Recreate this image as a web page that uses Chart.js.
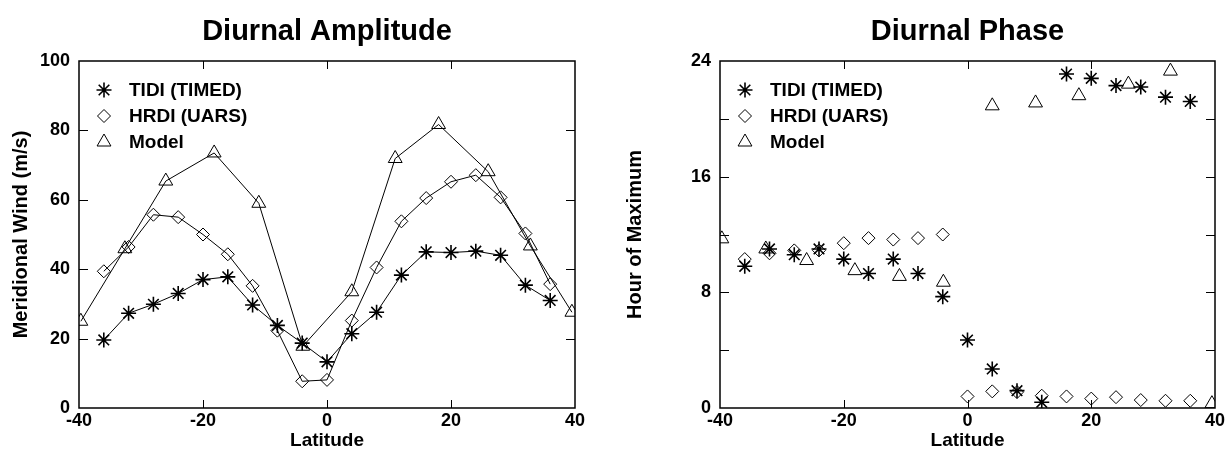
<!DOCTYPE html>
<html>
<head>
<meta charset="utf-8">
<script src="https://cdn.jsdelivr.net/npm/chart.js@4.4.0/dist/chart.umd.min.js"></script>
<style>
    html, body { margin: 0; padding: 0; background: #fff; }
    #wrap { position: relative; width: 1228px; height: 464px; }
    .box { position: absolute; top: 0; width: 614px; height: 464px; }
</style>
</head>
<body>
<div id="wrap">
    <div class="box" style="left:0"><canvas id="ampChart" width="614" height="464"></canvas></div>
    <div class="box" style="left:614px"><canvas id="phaseChart" width="614" height="464"></canvas></div>
</div>
<script>
// latitudes of the observations
const obsLat = [-36, -32, -28, -24, -20, -16, -12, -8, -4, 0, 4, 8, 12, 16, 20, 24, 28, 32, 36];
const modelLat = [-39.7, -32.6, -26, -18.2, -11, -3.9, 4, 11, 18, 26, 32.8, 39.5];

// diurnal amplitude (m/s)
const tidiAmp = [19.6, 27.3, 29.9, 33.0, 37.0, 37.8, 29.7, 23.8, 18.7, 13.3, 21.4, 27.6, 38.3, 45.0, 44.8, 45.2, 44.0, 35.4, 31.0];
const hrdiAmp = [39.4, 46.4, 55.7, 55.0, 50.0, 44.3, 35.2, 22.3, 7.7, 8.1, 25.2, 40.5, 53.8, 60.5, 65.2, 67.1, 60.7, 50.3, 35.7];
const modelAmp = [25.0, 45.9, 65.4, 73.5, 59.0, 17.8, 33.5, 71.9, 81.7, 68.1, 46.7, 27.6];

// diurnal phase (hour of maximum)
const tidiPhase = [9.8, 11.0, 10.6, 11.0, 10.3, 9.3, 10.3, 9.3, 7.7, 4.7, 2.7, 1.2, 0.4, 23.1, 22.8, 22.3, 22.2, 21.5, 21.2];
const hrdiPhase = [10.3, 10.7, 10.9, 10.9, 11.4, 11.75, 11.65, 11.75, 12.0, 0.8, 1.15, 1.1, 0.85, 0.8, 0.65, 0.75, 0.55, 0.5, 0.5];
const modelPhase = [11.7, 11.0, 10.2, 9.5, 9.1, 8.7, 20.9, 21.1, 21.6, 22.4, 23.3, 0.3];

// tick marks drawn inside the frame
const latTicks = [-20, 0, 20];
const ampTicks = [20, 40, 60, 80];
const phaseTicks = [4, 8, 12, 16, 20];

const seriesNames = ["TIDI (TIMED)", "HRDI (UARS)", "Model"];

const FONT = '"Liberation Sans", Arial, sans-serif';

function pts(xs, ys) {
    return xs.map((x, i) => ({ x: x, y: ys[i] }));
}

function drawSymbol(ctx, style, r, x, y) {
    ctx.beginPath();
    if (style === "star") {
        ctx.moveTo(x, y - r); ctx.lineTo(x, y + r);
        ctx.moveTo(x - r, y); ctx.lineTo(x + r, y);
        const d = r * Math.SQRT1_2;
        ctx.moveTo(x - d, y - d); ctx.lineTo(x + d, y + d);
        ctx.moveTo(x - d, y + d); ctx.lineTo(x + d, y - d);
    } else if (style === "rectRot") {
        ctx.moveTo(x, y - r); ctx.lineTo(x + r, y);
        ctx.lineTo(x, y + r); ctx.lineTo(x - r, y);
        ctx.closePath();
    } else {
        const s = r * Math.sin(Math.PI / 3);
        ctx.moveTo(x, y - r); ctx.lineTo(x + s, y + r / 2);
        ctx.lineTo(x - s, y + r / 2);
        ctx.closePath();
    }
    ctx.stroke();
}

const framePlugin = {
    id: "frame",
    afterDatasetsDraw(chart, args, opts) {
        const { ctx, chartArea: a } = chart;
        const x = chart.scales.x, y = chart.scales.y;
        ctx.save();
        ctx.strokeStyle = "#000";
        ctx.lineWidth = 1;
        ctx.beginPath();
        opts.xTicks.forEach(v => {
            const px = Math.round(x.getPixelForValue(v)) + 0.5;
            ctx.moveTo(px, a.bottom); ctx.lineTo(px, a.bottom - 8);
            ctx.moveTo(px, a.top); ctx.lineTo(px, a.top + 8);
        });
        opts.yTicks.forEach(v => {
            const py = Math.round(y.getPixelForValue(v)) + 0.5;
            ctx.moveTo(a.left, py); ctx.lineTo(a.left + 9, py);
            ctx.moveTo(a.right, py); ctx.lineTo(a.right - 9, py);
        });
        ctx.stroke();
        ctx.lineWidth = 1.5;
        ctx.strokeRect(a.left, a.top, a.right - a.left, a.bottom - a.top);
        ctx.restore();
    }
};

const legendPlugin = {
    id: "boxLegend",
    afterDraw(chart) {
        const { ctx, chartArea: a } = chart;
        ctx.save();
        ctx.strokeStyle = "#000";
        ctx.fillStyle = "#000";
        ctx.font = "bold 19px " + FONT;
        ctx.textBaseline = "middle";
        chart.data.datasets.forEach((ds, i) => {
            const cx = a.left + 25;
            const cy = a.top + 29 + i * 26;
            ctx.lineWidth = ds.pointBorderWidth;
            drawSymbol(ctx, ds.pointStyle, ds.pointRadius, cx, cy);
            ctx.fillText(ds.label, cx + 25, cy + 1);
        });
        ctx.restore();
    }
};

function makeDatasets(ys, line) {
    const styles = ["star", "rectRot", "triangle"];
    const radii = [7.5, 6.5, 8];
    const widths = [1.6, 1, 1];
    const lats = [obsLat, obsLat, modelLat];
    return ys.map((vals, i) => ({
        label: seriesNames[i],
        data: pts(lats[i], vals),
        showLine: line,
        borderColor: "#000",
        borderWidth: 1,
        pointStyle: styles[i],
        pointRadius: radii[i],
        pointHoverRadius: radii[i],
        pointBorderColor: "#000",
        pointBackgroundColor: "rgba(0,0,0,0)",
        pointBorderWidth: widths[i]
    }));
}

function makeConfig(title, yTitle, datasets, ymin, ymax, ystep, yTicks, leftW, rightPad) {
    return {
        type: "scatter",
        data: { datasets: datasets },
        options: {
            responsive: false,
            animation: false,
            devicePixelRatio: 1,
            layout: { padding: { left: 0, right: rightPad, top: 0, bottom: 0 } },
            plugins: {
                legend: { display: false },
                tooltip: { enabled: false },
                title: {
                    display: true,
                    text: title,
                    fullSize: false,
                    color: "#000",
                    font: { family: FONT, size: 29, weight: "bold" },
                    padding: { top: 15, bottom: 11.2 }
                },
                frame: { xTicks: latTicks, yTicks: yTicks }
            },
            scales: {
                x: {
                    type: "linear",
                    min: -40,
                    max: 40,
                    border: { display: false },
                    grid: { display: false, drawTicks: false },
                    ticks: {
                        stepSize: 20,
                        padding: 2,
                        color: "#000",
                        font: { family: FONT, size: 18, weight: "bold" }
                    },
                    title: {
                        display: true,
                        text: "Latitude",
                        color: "#000",
                        font: { family: FONT, size: 19, weight: "bold" },
                        padding: { top: 0, bottom: 12 }
                    },
                    afterFit(scale) { scale.height = 56; }
                },
                y: {
                    min: ymin,
                    max: ymax,
                    border: { display: false },
                    grid: { display: false, drawTicks: false },
                    ticks: {
                        stepSize: ystep,
                        padding: 9,
                        color: "#000",
                        font: { family: FONT, size: 18, weight: "bold" }
                    },
                    title: {
                        display: true,
                        text: yTitle,
                        color: "#000",
                        font: { family: FONT, size: 20, weight: "bold" },
                        padding: { top: 9, bottom: 0 }
                    },
                    afterFit(scale) { scale.width = leftW; }
                }
            }
        },
        plugins: [framePlugin, legendPlugin]
    };
}

new Chart(document.getElementById("ampChart"),
    makeConfig("Diurnal Amplitude", "Meridional Wind (m/s)",
        makeDatasets([tidiAmp, hrdiAmp, modelAmp], true),
        0, 100, 20, ampTicks, 79, 39));

new Chart(document.getElementById("phaseChart"),
    makeConfig("Diurnal Phase", "Hour of Maximum",
        makeDatasets([tidiPhase, hrdiPhase, modelPhase], false),
        0, 24, 8, phaseTicks, 106, 13));
</script>
</body>
</html>
